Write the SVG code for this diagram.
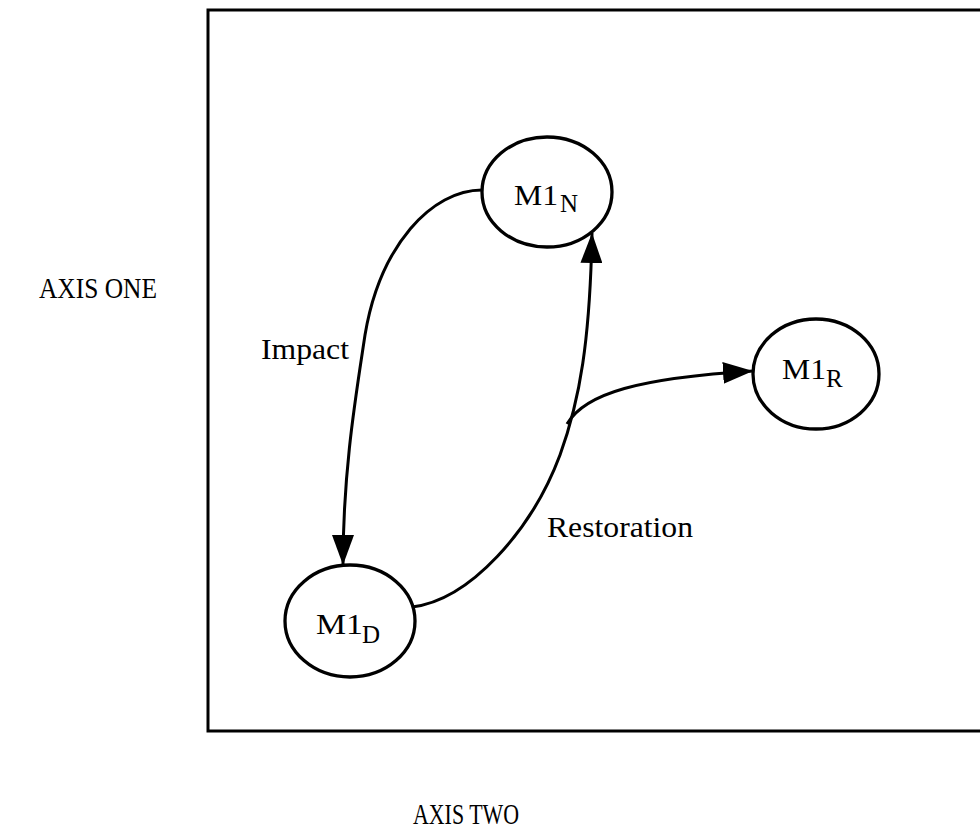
<svg xmlns="http://www.w3.org/2000/svg" width="980" height="832" viewBox="0 0 980 832">
  <style>
    .frame { fill: none; stroke: #000; stroke-width: 3; }
    .state { fill: #fff; stroke: #000; stroke-width: 3.3; }
    .edge { fill: none; stroke: #000; stroke-width: 3; }
    text { font-family: "Liberation Serif", "DejaVu Serif", serif; fill: #000; }
    .axis { font-size: 30px; }
    .label { font-size: 29px; }
    .name { font-size: 30px; }
    .sub { font-size: 25px; }
  </style>
  <defs>
    <marker id="arrow" viewBox="0 0 30 22" refX="30" refY="11" markerWidth="30" markerHeight="22" markerUnits="userSpaceOnUse" orient="auto">
      <path d="M0,0 L30,11 L0,22 Z" fill="#000"/>
    </marker>
  </defs>

  <rect width="980" height="832" fill="#fff"/>

  <!-- plot frame, open to the right -->
  <path class="frame" d="M985,10 L208,10 L208,731 L985,731"/>

  <!-- axis titles -->
  <text class="axis" x="39" y="298" textLength="118" lengthAdjust="spacingAndGlyphs">AXIS ONE</text>
  <text class="axis" x="413" y="824" textLength="106" lengthAdjust="spacingAndGlyphs">AXIS TWO</text>

  <!-- transitions -->
  <g id="connectors">
    <path id="impact" class="edge" d="M482,190 C432,190 380,245 365,335 C356,395 343,470 343,565" marker-end="url(#arrow)"/>
    <path id="restoration" class="edge" d="M412,607 C470,600 532,530 560,455 C580,400 590,340 592,233" marker-end="url(#arrow)"/>
    <path id="branch" class="edge" d="M567,424 C585,393 640,378 753,371" marker-end="url(#arrow)"/>
    <text class="label" x="261" y="359" textLength="88" lengthAdjust="spacingAndGlyphs">Impact</text>
    <text class="label" x="547" y="537" textLength="146" lengthAdjust="spacingAndGlyphs">Restoration</text>
  </g>

  <!-- states -->
  <g id="m1n">
    <ellipse class="state" cx="547" cy="192" rx="65" ry="55"/>
    <text class="name" x="514" y="205" textLength="44" lengthAdjust="spacingAndGlyphs">M1</text>
    <text class="sub" x="560" y="212">N</text>
  </g>
  <g id="m1d">
    <ellipse class="state" cx="350" cy="621" rx="65" ry="56"/>
    <text class="name" x="316" y="634" textLength="47" lengthAdjust="spacingAndGlyphs">M1</text>
    <text class="sub" x="362" y="643">D</text>
  </g>
  <g id="m1r">
    <ellipse class="state" cx="816" cy="374" rx="63" ry="55"/>
    <text class="name" x="782" y="379" textLength="44" lengthAdjust="spacingAndGlyphs">M1</text>
    <text class="sub" x="826" y="387">R</text>
  </g>
</svg>
